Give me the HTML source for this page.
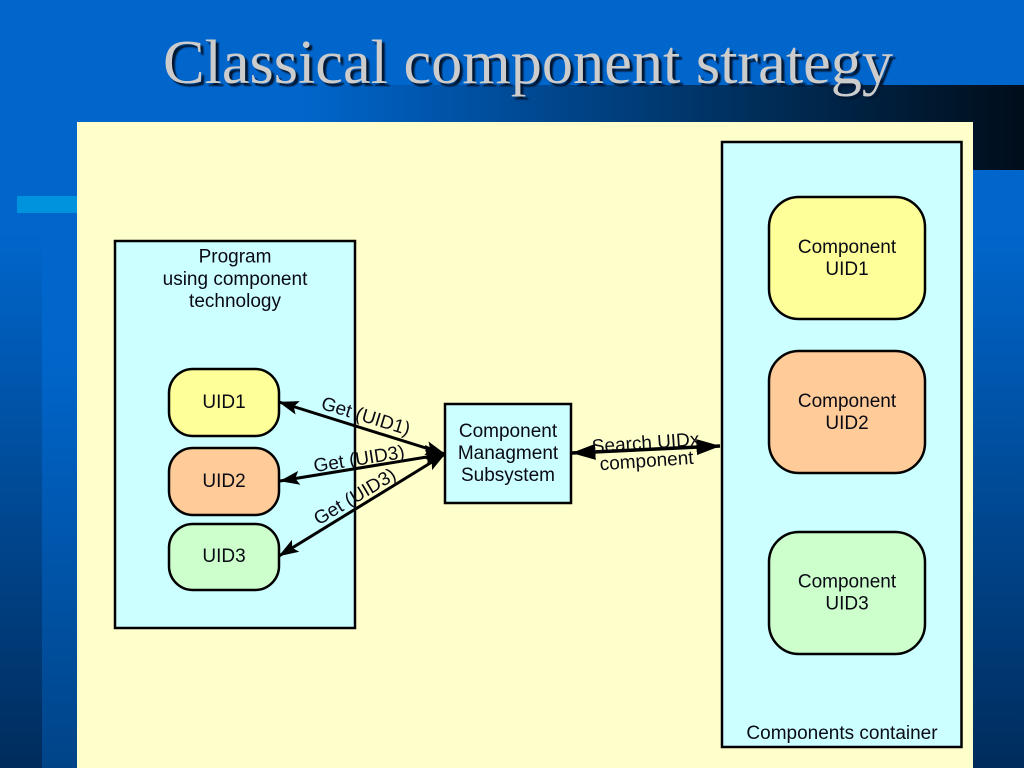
<!DOCTYPE html>
<html><head><meta charset="utf-8"><style>
html,body{margin:0;padding:0;background:#06c}
body{width:1024px;height:768px;overflow:hidden;position:relative}
svg{position:absolute;left:0;top:0}
</style></head><body>
<svg width="1024" height="768" viewBox="0 0 1024 768" xmlns="http://www.w3.org/2000/svg">
<defs>
<linearGradient id="bg" x1="0" y1="0" x2="0" y2="1">
<stop offset="0" stop-color="#0066cc"/><stop offset="0.3" stop-color="#0066cc"/><stop offset="1" stop-color="#002c5c"/>
</linearGradient>
<linearGradient id="bg2" x1="0" y1="0" x2="0" y2="1">
<stop offset="0" stop-color="#0066cc"/><stop offset="0.45" stop-color="#0066cc"/><stop offset="1" stop-color="#004488"/>
</linearGradient>
<linearGradient id="band" x1="0" y1="0" x2="1" y2="0">
<stop offset="0" stop-color="#0066cc"/><stop offset="0.25" stop-color="#004f9f"/><stop offset="0.65" stop-color="#002c56"/><stop offset="1" stop-color="#000d1a"/>
</linearGradient>
<filter id="sh" x="-5%" y="-20%" width="110%" height="140%"><feGaussianBlur stdDeviation="0.7"/></filter>
<marker id="a" viewBox="0 0 20 14" refX="19.5" refY="7" markerWidth="20" markerHeight="14" markerUnits="userSpaceOnUse" orient="auto-start-reverse"><path d="M0 0L20 7L0 14L4 7Z" fill="#000"/></marker>
<marker id="b" viewBox="0 0 24 16" refX="23.5" refY="8" markerWidth="24" markerHeight="16" markerUnits="userSpaceOnUse" orient="auto-start-reverse"><path d="M0 0L24 8L0 16Z" fill="#000"/></marker>
</defs>
<rect width="1024" height="768" fill="url(#bg)"/>
<rect x="42" y="0" width="35" height="768" fill="url(#bg2)"/>
<rect x="300" y="85" width="724" height="85" fill="url(#band)"/>
<rect x="17" y="196" width="60" height="17" fill="#0093dd"/>
<text x="163" y="83" font-family="'Liberation Serif',serif" font-size="62.300" fill="#001230" filter="url(#sh)" transform="translate(3,3)">Classical component strategy</text>
<text x="163" y="83" font-family="'Liberation Serif',serif" font-size="62.300" fill="#cccccc">Classical component strategy</text>
<rect x="77" y="122" width="896" height="646" fill="#ffffcc"/>
<g stroke="#000" stroke-width="2.500">
<rect x="115" y="241" width="240" height="387" fill="#ccffff"/>
<rect x="722" y="142" width="239.500" height="605" fill="#ccffff"/>
<rect x="445" y="404" width="126" height="99" fill="#ccffff"/>
<rect x="169" y="369" width="110" height="67" rx="24" fill="#ffff99"/>
<rect x="169" y="448" width="110" height="67" rx="24" fill="#ffcc99"/>
<rect x="169" y="524" width="110" height="66" rx="24" fill="#ccffcc"/>
<rect x="769" y="197" width="156" height="122" rx="30" fill="#ffff99"/>
<rect x="769" y="351" width="156" height="122" rx="30" fill="#ffcc99"/>
<rect x="769" y="532" width="156" height="122" rx="30" fill="#ccffcc"/>
</g>
<g stroke="#000" stroke-width="3" fill="none">
<line x1="279" y1="402" x2="445" y2="454" marker-start="url(#a)" marker-end="url(#a)"/>
<line x1="280" y1="481" x2="445" y2="454" marker-start="url(#a)" marker-end="url(#a)"/>
<line x1="279" y1="556" x2="445" y2="454" marker-start="url(#a)" marker-end="url(#a)"/>
<line x1="572" y1="453" x2="720" y2="446" stroke-width="3.500" marker-start="url(#b)" marker-end="url(#b)"/>
</g>
<path d="M425 445L445 454L428 464Z" fill="#000"/>
<g font-family="'Liberation Sans',sans-serif" font-size="19" fill="#0a0a14" text-anchor="middle">
<text x="235" y="262.500">Program</text>
<text x="235" y="285">using component</text>
<text x="235" y="307">technology</text>
<text x="224" y="408">UID1</text>
<text x="224" y="487">UID2</text>
<text x="224" y="562">UID3</text>
<text x="508" y="437">Component</text>
<text x="508" y="459">Managment</text>
<text x="508" y="481">Subsystem</text>
<text x="847" y="253">Component</text>
<text x="847" y="275">UID1</text>
<text x="847" y="407">Component</text>
<text x="847" y="429">UID2</text>
<text x="847" y="587.500">Component</text>
<text x="847" y="609.500">UID3</text>
<text x="842" y="739">Components container</text>
<text transform="translate(364,422) rotate(17)">Get (UID1)</text>
<text transform="translate(360,465) rotate(-9)">Get (UID3)</text>
<text transform="translate(358,502) rotate(-31)">Get (UID3)</text>
<text transform="translate(646,449) rotate(-4)">Search UIDx</text>
<text transform="translate(647,467) rotate(-4)">component</text>
</g>
</svg>
</body></html>
